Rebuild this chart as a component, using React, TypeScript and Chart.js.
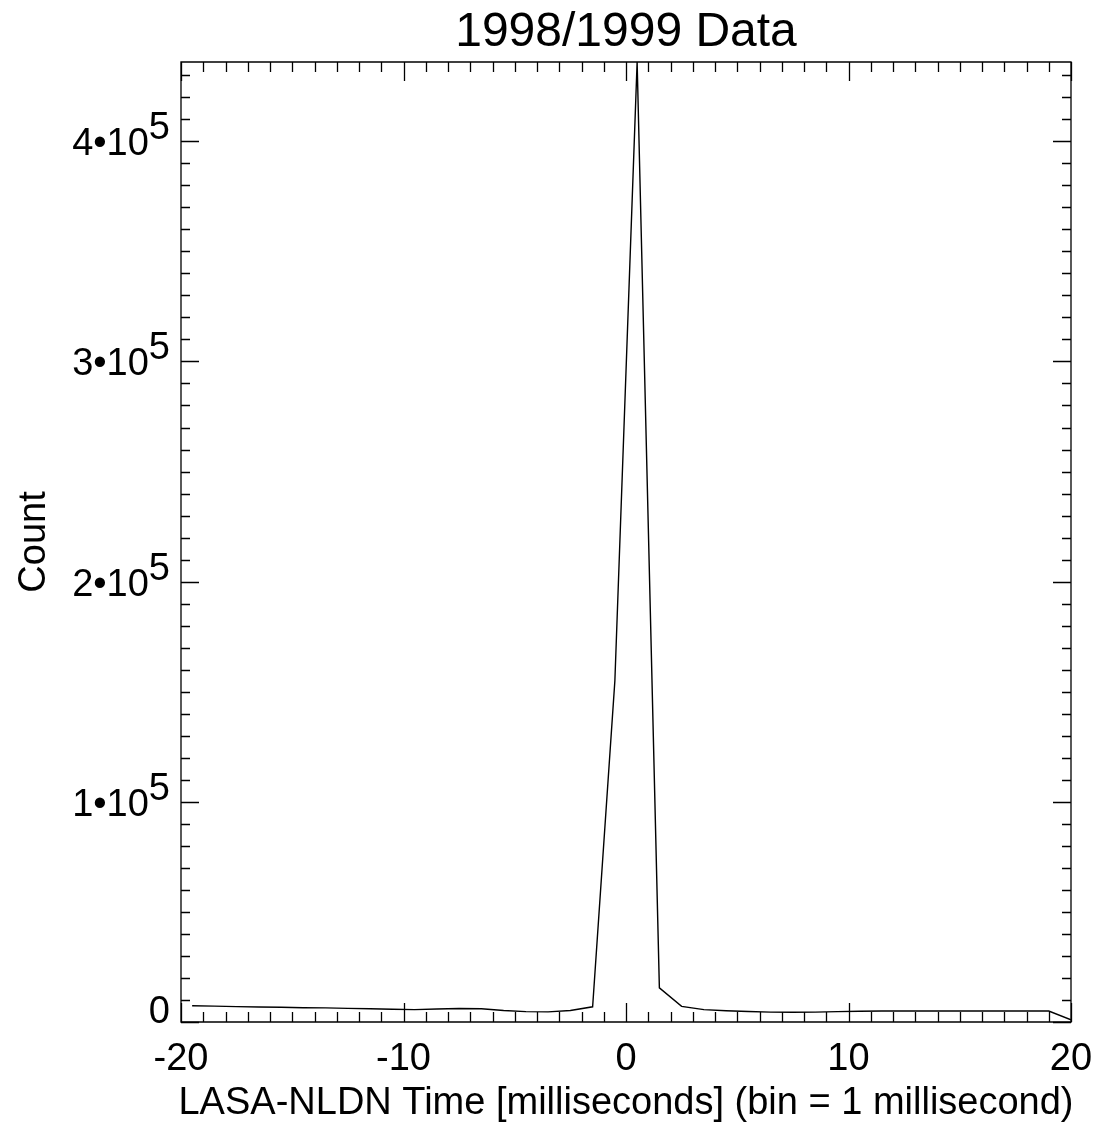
import React, { useEffect, useRef } from "react";
import { Chart, registerables } from "chart.js";

Chart.register(...registerables);

const titleText = "1998/1999 Data";
const xTitle = "LASA-NLDN Time [milliseconds] (bin = 1 millisecond)";
const yTitle = "Count";

const timeBins = [
  -19.5, -18.5, -17.5, -16.5, -15.5, -14.5, -13.5, -12.5, -11.5, -10.5,
  -9.5, -8.5, -7.5, -6.5, -5.5, -4.5, -3.5, -2.5, -1.5, -0.5,
  0.5, 1.5, 2.5, 3.5, 4.5, 5.5, 6.5, 7.5, 8.5, 9.5,
  10.5, 11.5, 12.5, 13.5, 14.5, 15.5, 16.5, 17.5, 18.5, 19, 20,
];
const counts = [
  7400, 7200, 7000, 6800, 6700, 6500, 6400, 6200, 6000, 5800,
  5600, 5900, 6100, 6000, 5200, 4700, 4600, 5200, 6900, 155000,
  436000, 15500, 7100, 5600, 5100, 4800, 4500, 4400, 4500, 4700,
  4900, 5000, 5000, 5000, 5000, 5000, 5000, 5000, 5000, 5000, 1000,
];

const xMin = -20;
const xMax = 20;
const yMin = 0;
const yMax = 436000;

const xMajorTicks = [-20, -10, 0, 10, 20];
const xTickLabels = ["-20", "-10", "0", "10", "20"];
const xMinorStep = 1;

const yMajorTicks = [0, 100000, 200000, 300000, 400000];
const yTickMantissas = ["0", "1", "2", "3", "4"];
const yTickExponent = "5";
const yMinorStep = 10000;

const FONT = "'Liberation Sans', Arial, sans-serif";

const axesPlugin = {
  id: "idlAxes",
  afterDraw(chart: any) {
    const ctx = chart.ctx as CanvasRenderingContext2D;
    const { left, right, top, bottom } = chart.chartArea;
    const xs = chart.scales.x;
    const ys = chart.scales.y;
    ctx.save();
    ctx.strokeStyle = "#000";
    ctx.lineWidth = 1.3;
    ctx.beginPath();
    ctx.rect(left, top, right - left, bottom - top);
    ctx.stroke();

    // x ticks
    ctx.beginPath();
    for (let v = xMin; v <= xMax + 1e-9; v += xMinorStep) {
      const px = Math.round(xs.getPixelForValue(v)) + 0.5;
      const major = xMajorTicks.includes(v);
      const len = major ? 19 : 10;
      ctx.moveTo(px, bottom);
      ctx.lineTo(px, bottom - len);
      ctx.moveTo(px, top);
      ctx.lineTo(px, top + len);
    }
    // y ticks
    for (let v = yMin; v <= yMax + 1e-9; v += yMinorStep) {
      const py = Math.round(ys.getPixelForValue(v)) + 0.5;
      const major = yMajorTicks.includes(v);
      const len = major ? 18 : 9;
      ctx.moveTo(left, py);
      ctx.lineTo(left + len, py);
      ctx.moveTo(right, py);
      ctx.lineTo(right - len, py);
    }
    ctx.stroke();

    ctx.fillStyle = "#000";
    // x tick labels
    ctx.font = `38px ${FONT}`;
    ctx.textAlign = "center";
    ctx.textBaseline = "alphabetic";
    xMajorTicks.forEach((v, i) => {
      ctx.fillText(xTickLabels[i], xs.getPixelForValue(v), bottom + 48);
    });

    // y tick labels
    const labelRight = left - 11;
    yMajorTicks.forEach((v, i) => {
      const py = ys.getPixelForValue(v);
      ctx.textAlign = "right";
      if (v === 0) {
        ctx.font = `38px ${FONT}`;
        ctx.fillText(yTickMantissas[i], labelRight, py + 1);
      } else {
        ctx.font = `38px ${FONT}`;
        const supW = ctx.measureText(yTickExponent).width;
        ctx.fillText(yTickExponent, labelRight, py - 2);
        ctx.fillText(yTickMantissas[i] + "\u202210", labelRight - supW, py + 14);
      }
    });

    // titles
    ctx.textAlign = "center";
    ctx.font = `48px ${FONT}`;
    ctx.fillText(titleText, (left + right) / 2, 46);
    ctx.font = `38px ${FONT}`;
    ctx.fillText(xTitle, (left + right) / 2, bottom + 92);

    ctx.save();
    ctx.translate(45, (top + bottom) / 2);
    ctx.rotate(-Math.PI / 2);
    ctx.textAlign = "center";
    ctx.fillText(yTitle, 0, 0);
    ctx.restore();

    ctx.restore();
  },
};

export default function App() {
  const canvasRef = useRef<HTMLCanvasElement | null>(null);

  useEffect(() => {
    const canvas = canvasRef.current;
    if (!canvas) return;
    const points = timeBins.map((x, i) => ({ x, y: counts[i] }));
    const chart = new Chart(canvas, {
      type: "line",
      data: {
        datasets: [
          {
            data: points,
            borderColor: "#000",
            borderWidth: 1.4,
            pointRadius: 0,
            tension: 0,
            fill: false,
          },
        ],
      },
      options: {
        animation: false,
        responsive: false,
        devicePixelRatio: 1,
        layout: { padding: { left: 181, right: 28, top: 62, bottom: 102 } },
        plugins: {
          legend: { display: false },
          tooltip: { enabled: false },
          title: { display: false },
        },
        scales: {
          x: { type: "linear", min: xMin, max: xMax, display: false },
          y: { type: "linear", min: yMin, max: yMax, display: false },
        },
      },
      plugins: [axesPlugin],
    });
    return () => chart.destroy();
  }, []);

  return (
    <div style={{ position: "absolute", left: 0, top: 0, width: 1099, height: 1124, background: "#fff" }}>
      <canvas ref={canvasRef} width={1099} height={1124} style={{ display: "block", width: 1099, height: 1124 }} />
    </div>
  );
}
